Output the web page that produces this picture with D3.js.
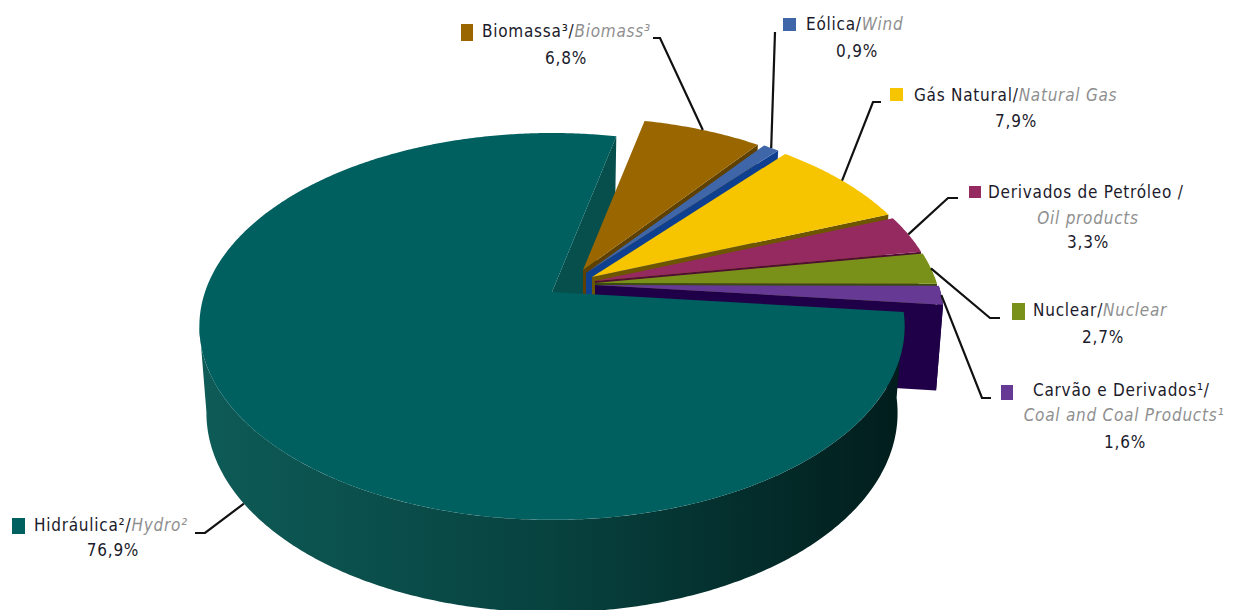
<!DOCTYPE html>
<html lang="pt">
<head>
<meta charset="utf-8">
<title>Oferta interna de energia elétrica por fonte</title>
<script src="https://cdn.jsdelivr.net/npm/d3@7/dist/d3.min.js"></script>
<style>
  html, body { margin: 0; padding: 0; background: #fff; overflow: hidden; }
  svg { display: block; }
  text { font-family: "DejaVu Sans Condensed", "DejaVu Sans", sans-serif; font-size: 17px; letter-spacing: 0.75px; fill: #1b1b2b; }
  .en { font-style: italic; fill: #8f8f8f; }
</style>
</head>
<body>
<svg id="chart" width="1233" height="610"></svg>
<script>
// Shares by source, in percent
const sources = ["Hidráulica²", "Biomassa³", "Eólica", "Gás Natural", "Derivados de Petróleo", "Nuclear", "Carvão e Derivados¹"];
const sourcesEn = ["Hydro²", "Biomass³", "Wind", "Natural Gas", "Oil products", "Nuclear", "Coal and Coal Products¹"];
const shares = [76.9, 6.8, 0.9, 7.9, 3.3, 2.7, 1.6];
const shareLabels = ["76,9%", "6,8%", "0,9%", "7,9%", "3,3%", "2,7%", "1,6%"];

const topColors = ["#006060", "#996600", "#3f66a8", "#f7c400", "#952a60", "#7a9119", "#663a94"];
const wallColors = ["#064f4d", "#5e4000", "#0f3f8f", "#6e5500", "#4f0f33", "#3a4a10", "#1f0048"];

// Pie camera: plane centre, radii and foreshortening
const view = { cx: 552, cy: 292, rx: 347, ry: 187.3, k: 0.178, depth: 85, depthFront: 12, taper: 0.02 };

// Pull-out of each wedge from the pie centre, in pixels, and its radius factor
const pullX = [0, 31, 34, 40, 43, 43, 43];
const pullY = [0, -22, -19, -15, -11, -9, -7];
const radiusFactor = [1, 0.95, 0.97, 0.975, 0.98, 0.985, 0.99];

// Label layout: swatch box, text lines, and the elbow of the leader
const labelLayout = [
  { swatch: [12, 518, 13, 16], leader: [[205, 533], [195, 533]], anchorDepth: 1,
    lines: [{ x: 34, y: 531, anchor: "start", parts: ["pt", "sep", "en"] }, { x: 113, y: 556, anchor: "middle", parts: ["val"] }] },
  { swatch: [461, 24, 12, 17], leader: [[660, 38], [653, 38]], anchorDepth: 0,
    lines: [{ x: 482, y: 37, anchor: "start", parts: ["pt", "sep", "en"] }, { x: 566, y: 64, anchor: "middle", parts: ["val"] }] },
  { swatch: [783, 18, 13, 13], leader: [[775, 32]], anchorDepth: 0,
    lines: [{ x: 806, y: 30, anchor: "start", parts: ["pt", "sep", "en"] }, { x: 857, y: 57, anchor: "middle", parts: ["val"] }] },
  { swatch: [890, 88, 13, 13], leader: [[873, 102], [881, 102]], anchorDepth: 0,
    lines: [{ x: 914, y: 101, anchor: "start", parts: ["pt", "sep", "en"] }, { x: 1016, y: 127, anchor: "middle", parts: ["val"] }] },
  { swatch: [969, 186, 12, 12], leader: [[948, 198], [958, 198]], anchorDepth: 0,
    lines: [{ x: 988, y: 198, anchor: "start", parts: ["pt", "sepWide"] }, { x: 1088, y: 224, anchor: "middle", parts: ["en"] }, { x: 1088, y: 248, anchor: "middle", parts: ["val"] }] },
  { swatch: [1012, 303, 13, 17], leader: [[990, 318], [1000, 318]], anchorDepth: 0,
    lines: [{ x: 1033, y: 316, anchor: "start", parts: ["pt", "sep", "en"] }, { x: 1103, y: 343, anchor: "middle", parts: ["val"] }] },
  { swatch: [1001, 385, 12, 15], leader: [[982, 398], [991, 398]], anchorDepth: 0,
    lines: [{ x: 1033, y: 396, anchor: "start", parts: ["pt", "sep"] }, { x: 1124, y: 421, anchor: "middle", parts: ["en"] }, { x: 1125, y: 448, anchor: "middle", parts: ["val"] }] }
];

const svg = d3.select("#chart");
const defs = svg.append("defs");

// Wall shading of the large wedge: lighter on the left, near black on the right
const grad = defs.append("linearGradient").attr("id", "hydroWall")
  .attr("gradientUnits", "userSpaceOnUse").attr("x1", 200).attr("x2", 905).attr("y1", 0).attr("y2", 0);
grad.append("stop").attr("offset", 0).attr("stop-color", "#0e5b57");
grad.append("stop").attr("offset", 0.5).attr("stop-color", "#07423f");
grad.append("stop").attr("offset", 1).attr("stop-color", "#011d1c");

const pie = d3.pie().sort(null).startAngle(96 * Math.PI / 180).endAngle(96 * Math.PI / 180 + 2 * Math.PI);
const wedges = pie(shares);
const line = d3.line();

// Projects a point of the pie plane (angle clockwise from north, radius 0..1, z 0 top..1 bottom)
function project(i, angle, r, z) {
  const u = r * radiusFactor[i] * Math.sin(angle);
  const v = r * radiusFactor[i] * Math.cos(angle);
  const w = 1 + view.k * v;
  const scale = 1 - view.taper * z;
  const drop = z * (view.depth - view.depthFront * v);
  return [
    view.cx + pullX[i] + scale * view.rx * u / w,
    view.cy + pullY[i] + drop - scale * view.ry * v / w
  ];
}

function arcPoints(i, a0, a1, z) {
  const n = Math.max(2, Math.ceil(Math.abs(a1 - a0) / 0.01));
  return d3.range(n + 1).map(j => project(i, a0 + (a1 - a0) * j / n, 1, z));
}

function topPath(i) {
  const d = wedges[i];
  return line([project(i, 0, 0, 0), ...arcPoints(i, d.startAngle, d.endAngle, 0)]) + "Z";
}

function edgeWall(i, angle) {
  return line([project(i, 0, 0, 0), project(i, angle, 1, 0), project(i, angle, 1, 1), project(i, 0, 0, 1)]) + "Z";
}

const marks = svg.append("g");

// Cut face of the large wedge, behind everything else
marks.append("path").attr("d", edgeWall(0, wedges[0].endAngle)).attr("fill", wallColors[0]);

// Small wedges, painted back to front
d3.range(1, shares.length).forEach(i => {
  const d = wedges[i];
  marks.append("path").attr("d", edgeWall(i, d.endAngle)).attr("fill", wallColors[i]);
  if (i === shares.length - 1) {
    const outer = [...arcPoints(i, d.startAngle, d.endAngle, 0), ...arcPoints(i, d.endAngle, d.startAngle, 1)];
    marks.append("path").attr("d", line(outer) + "Z").attr("fill", wallColors[i]);
  }
  marks.append("path").attr("d", topPath(i)).attr("fill", topColors[i]);
});

// Curved rim of the large wedge up to its left silhouette, then its top face
const rimEnd = 260 * Math.PI / 180;
marks.append("path")
  .attr("d", line([...arcPoints(0, wedges[0].startAngle, rimEnd, 0), ...arcPoints(0, rimEnd, wedges[0].startAngle, 1)]) + "Z")
  .attr("fill", "url(#hydroWall)");
marks.append("path").attr("d", topPath(0)).attr("fill", topColors[0]);

// Leaders run from the outer edge of each wedge to its label
const leaders = svg.append("g").attr("fill", "none").attr("stroke", "#111").attr("stroke-width", 2.2);
wedges.forEach((d, i) => {
  const mid = (d.startAngle + d.endAngle) / 2;
  const start = project(i, mid, 1, labelLayout[i].anchorDepth);
  leaders.append("path").attr("d", line([start, ...labelLayout[i].leader]));
});

// Swatches and text
const labels = svg.append("g");
labelLayout.forEach((lay, i) => {
  const [x, y, w, h] = lay.swatch;
  labels.append("rect").attr("x", x).attr("y", y).attr("width", w).attr("height", h).attr("fill", topColors[i]);
  lay.lines.forEach(l => {
    const t = labels.append("text").attr("x", l.x).attr("y", l.y).attr("text-anchor", l.anchor);
    l.parts.forEach(p => {
      if (p === "pt") t.append("tspan").text(sources[i]);
      if (p === "sep") t.append("tspan").text("/");
      if (p === "sepWide") t.append("tspan").text(" /");
      if (p === "en") t.append("tspan").attr("class", "en").text(sourcesEn[i]);
      if (p === "val") t.append("tspan").text(shareLabels[i]);
    });
  });
});
</script>
</body>
</html>
